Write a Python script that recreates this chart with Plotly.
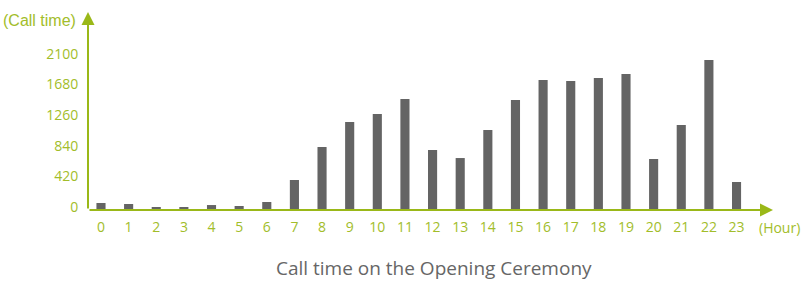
import plotly.graph_objects as go

hours = list(range(24))
call_time = [96, 82, 41, 41, 68, 55, 110, 411, 863, 1206, 1315, 1521, 822, 712,
             1096, 1507, 1781, 1767, 1808, 1863, 699, 1165, 2055, 384]
y_ticks = [0, 420, 840, 1260, 1680, 2100]
x_labels = [str(h) for h in hours]

GREEN = "#9ab818"
LABEL = "#a2bd2a"
BAR = "#646464"
FONT = "Open Sans"

W, H = 802, 281
L, R, T, B = 88, W - 773, 12, H - 210
PW, PH = W - L - R, H - T - B

fig = go.Figure(go.Bar(x=hours, y=call_time, marker_color=BAR, width=0.33,
                       marker_line_width=0))

fig.update_layout(
    width=W, height=H, margin=dict(l=L, r=R, t=T, b=B),
    paper_bgcolor="white", plot_bgcolor="white", showlegend=False,
    font=dict(family=FONT, size=14, color=LABEL),
)
fig.update_xaxes(range=[-0.47, 24.32], tickvals=hours, ticktext=x_labels,
                 showgrid=False, zeroline=False, showline=False,
                 ticks="outside", ticklen=4, tickcolor="rgba(0,0,0,0)",
                 tickfont=dict(size=14, color=LABEL))
fig.update_yaxes(range=[0, 2713], tickvals=y_ticks,
                 showgrid=False, zeroline=False, showline=False,
                 ticks="outside", ticklen=6, tickcolor="rgba(0,0,0,0)",
                 ticklabelshift=-3,
                 tickfont=dict(size=14, color=LABEL))

# axis arrows
fig.add_annotation(xref="paper", yref="paper", x=0, y=1, ax=0, ay=PH,
                   axref="pixel", ayref="pixel", showarrow=True, text="",
                   arrowhead=2, arrowsize=1.3, arrowwidth=2, arrowcolor=GREEN)
fig.add_annotation(xref="paper", yref="paper", x=1, y=0, ax=-PW, ay=0,
                   axref="pixel", ayref="pixel", showarrow=True, text="",
                   arrowhead=2, arrowsize=1.3, arrowwidth=2, arrowcolor=GREEN)

fig.add_annotation(xref="paper", yref="paper", x=-(L - 78) / PW, y=(210 - 20) / PH,
                   xanchor="right", yanchor="middle", text="(Call time)",
                   showarrow=False,
                   font=dict(size=16, color=LABEL, family="Liberation Sans"))
fig.add_annotation(xref="paper", yref="paper", x=1 + (757 - 773) / PW,
                   y=-17 / PH, xanchor="left", yanchor="middle", text="(Hour)",
                   showarrow=False, font=dict(size=14, color=LABEL))
fig.add_annotation(xref="paper", yref="paper", x=(434 - L) / PW,
                   y=-(268 - 210) / PH, xanchor="center", yanchor="middle",
                   text="Call time on the Opening Ceremony", showarrow=False,
                   font=dict(size=19, color="#666666", family=FONT))

fig.write_html("out.html", config={"displayModeBar": False},
               post_script="document.body.style.margin='0';document.body.style.overflow='hidden';")
